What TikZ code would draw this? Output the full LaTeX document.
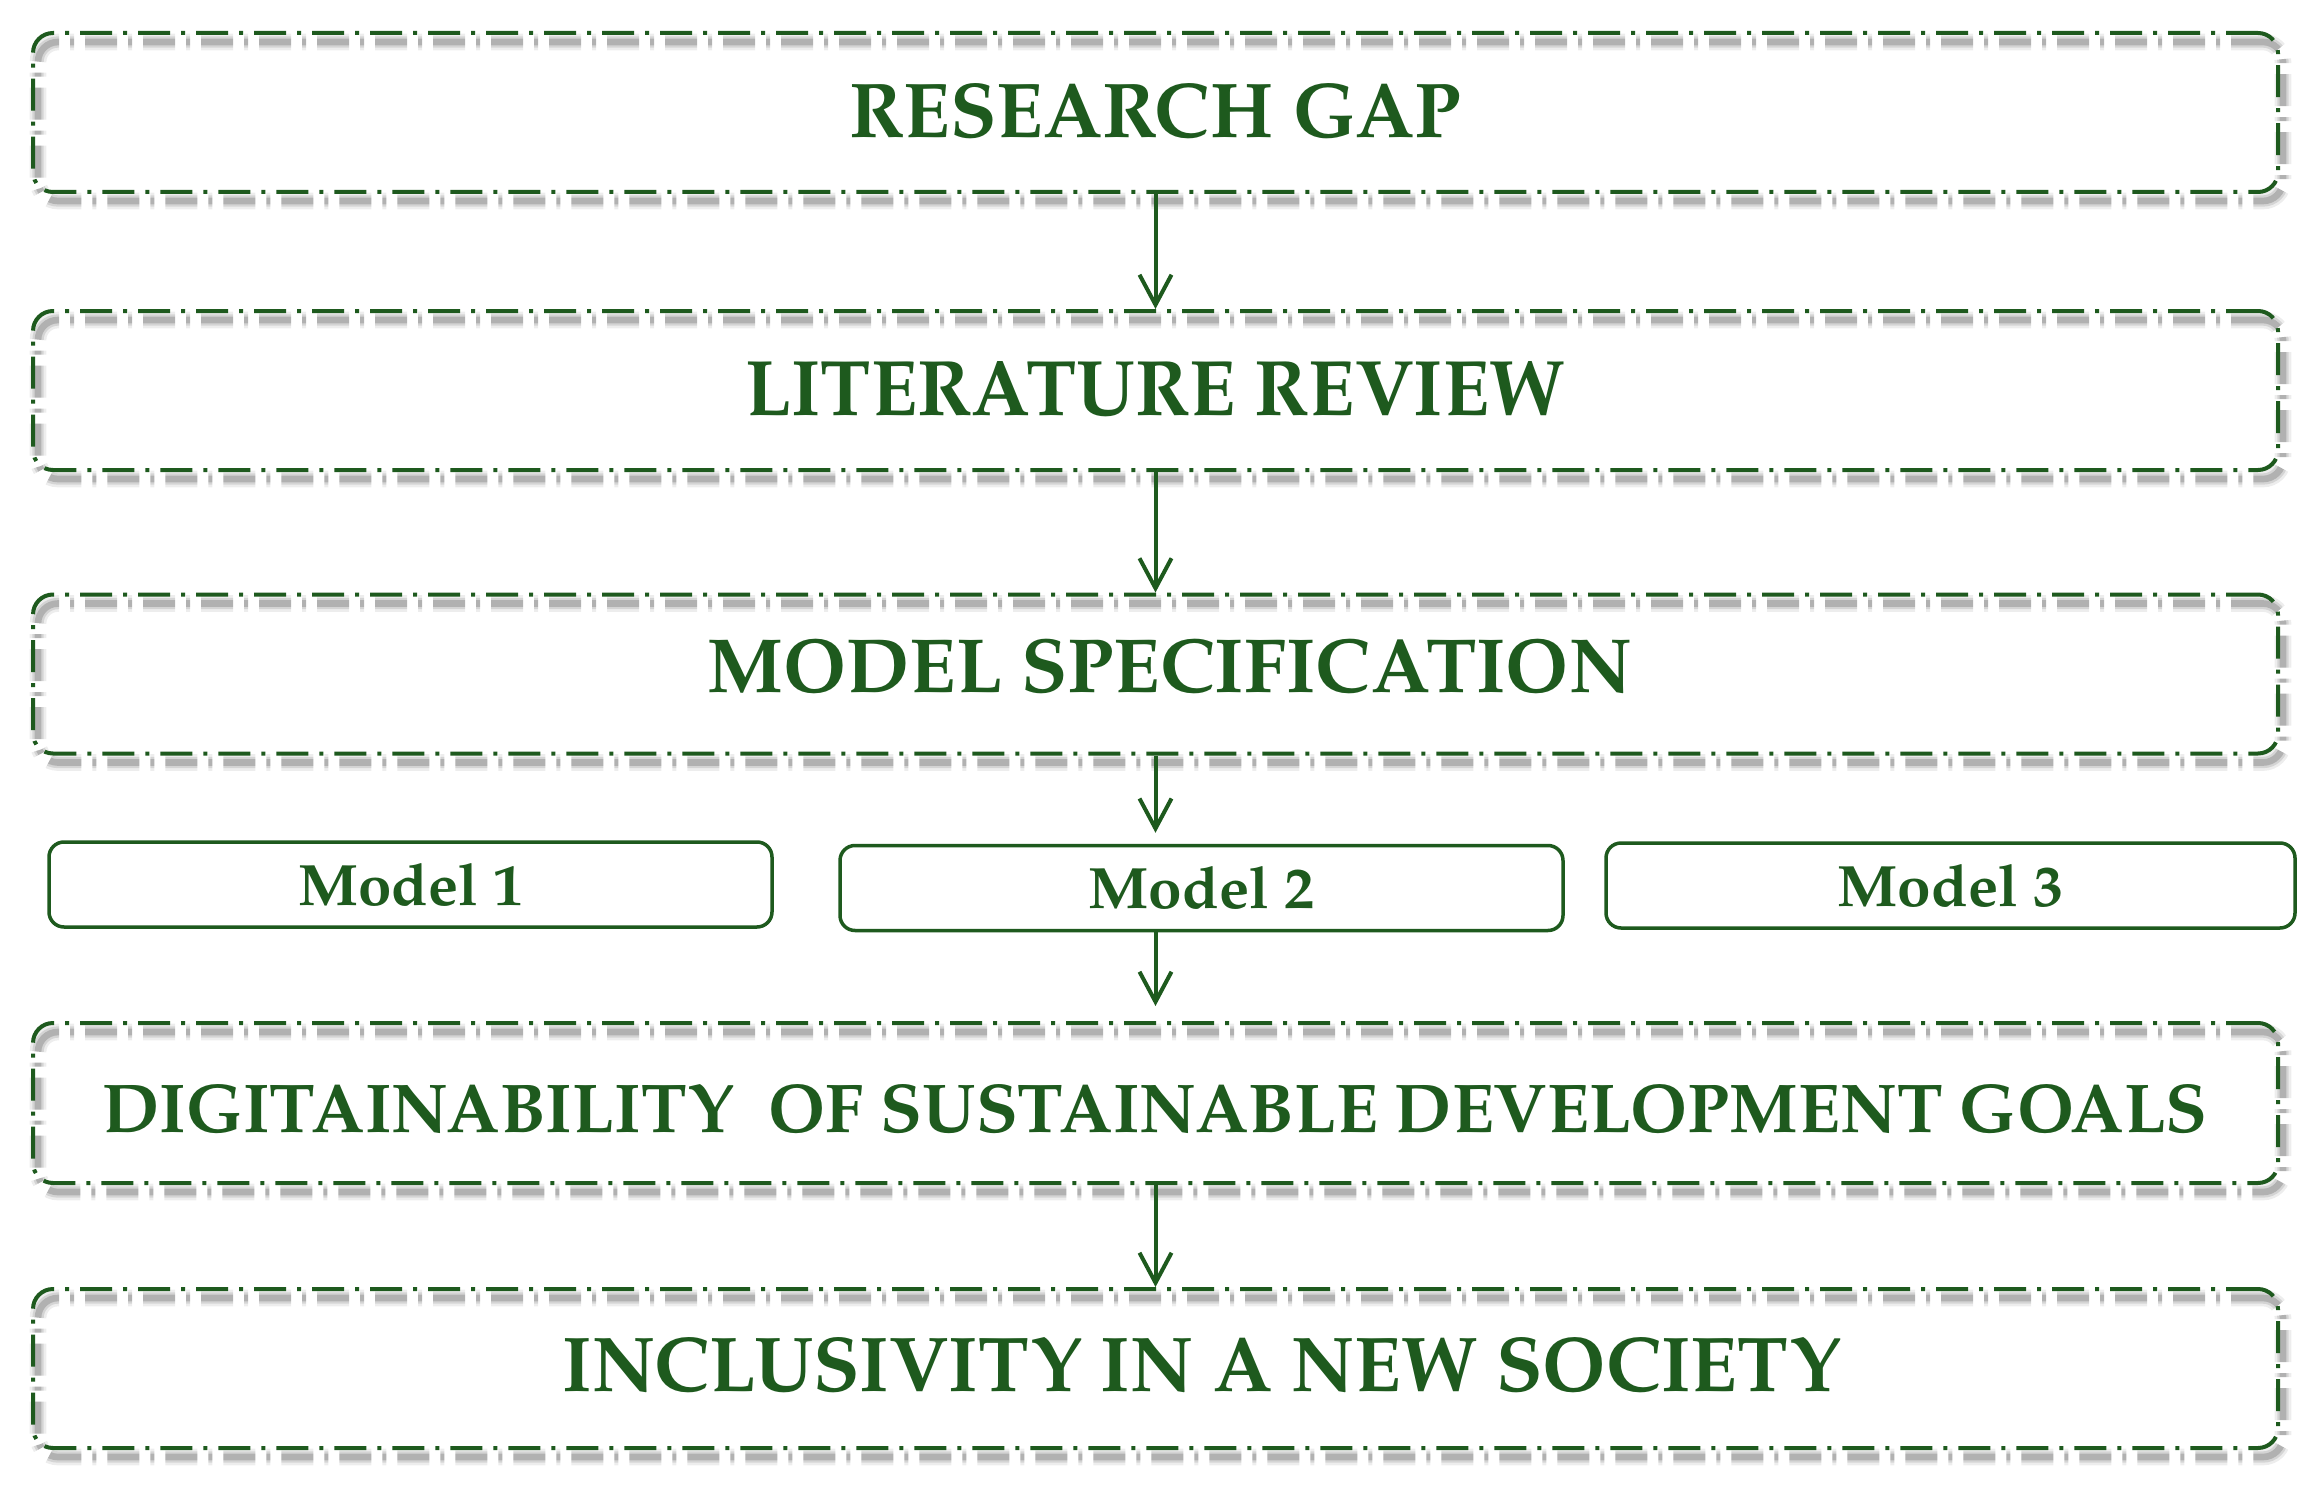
\documentclass[tikz,border=0pt]{standalone}
\usepackage{graphicx}
\usepackage{fontspec}
\setmainfont{texgyrepagella}[Extension=.otf,UprightFont=*-regular,BoldFont=*-bold]
\usetikzlibrary{arrows.meta}
\definecolor{dg}{RGB}{30,90,30}
\tikzset{
  ddash/.style={dash pattern=on 9.6pt off 3.3pt on 1.2pt off 3.3pt},
  bigbox/.style={rectangle, ddash, rounded corners=6pt, minimum width=673.5pt, inner sep=0pt, line width=1.2pt},
  modbox/.style={rectangle, draw=dg, rounded corners=4.5pt, line width=1.05pt, inner sep=0pt, minimum height=25.5pt},
  lab/.style={inner sep=0pt, text=dg, font=\bfseries},
  arr/.style={draw=dg, line width=1.2pt, -{Straight Barb[length=9pt,width=9.6pt,line width=1.2pt]}}
}
\newcommand\gbox[4]{%
  \foreach \w/\o in {5pt/0.07,3.4pt/0.10,2pt/0.16}{%
    \node[bigbox, draw=black, draw opacity=\o, line width=\w, minimum height=#3] at (#2) [xshift=1.5pt,yshift=-2.7pt] {};}
  \node[bigbox, draw=dg, minimum height=#3] (#1) at (#2) {};
}
\begin{document}
\begin{tikzpicture}[x=0.3pt,y=-0.3pt]
\useasboundingbox[fill=white] (0,0) rectangle (2319,1493);
% big boxes
\gbox{b1}{1155.5,112.5}{47.7pt}{}
\gbox{b2}{1155.5,390.5}{47.7pt}{}
\gbox{b3}{1155.5,674}{47.7pt}{}
\gbox{b4}{1155.5,1103}{48pt}{}
\gbox{b5}{1155.5,1368.5}{47.7pt}{}
% model boxes
\node[modbox, minimum width=216.9pt] (m1) at (410.5,884.5) {};
\node[modbox, minimum width=216.9pt] (m2) at (1201.5,888) {};
\node[modbox, minimum width=206.7pt] (m3) at (1950.5,885.5) {};
% labels
\node[lab] (t1) at (1155,111) {\resizebox{183.6pt}{16.2pt}{RESEARCH GAP}};
\node[lab] (t2) at (1155,389) {\resizebox{245.7pt}{16.2pt}{LITERATURE REVIEW}};
\node[lab] (t3) at (1170,666.5) {\resizebox{277.2pt}{16pt}{MODEL SPECIFICATION}};
\node[lab] (t4) at (1155,1109) {\resizebox{631.5pt}{14.4pt}{DIGITAINABILITY\ \ OF SUSTAINABLE DEVELOPMENT GOALS}};
\node[lab] (t5) at (1202,1365) {\resizebox{383.4pt}{16.2pt}{INCLUSIVITY IN A NEW SOCIETY}};
\node[lab] (l1) at (m1) {\resizebox{67.5pt}{12.6pt}{Model 1}};
\node[lab] (l2) at (m2) {\resizebox{67.8pt}{12.6pt}{Model 2}};
\node[lab] (l3) at (m3) {\resizebox{67.8pt}{12.6pt}{Model 3}};
% arrows
\draw[arr] (b1.south) -- (b2.north);
\draw[arr] (b2.south) -- (b3.north);
\draw[arr, shorten >=3.3pt] (b3.south) -- (b3.south |- m2.north);
\draw[arr, shorten >=4.5pt] (b3.south |- m2.south) -- (b4.north);
\draw[arr] (b4.south) -- (b5.north);
\end{tikzpicture}
\end{document}
